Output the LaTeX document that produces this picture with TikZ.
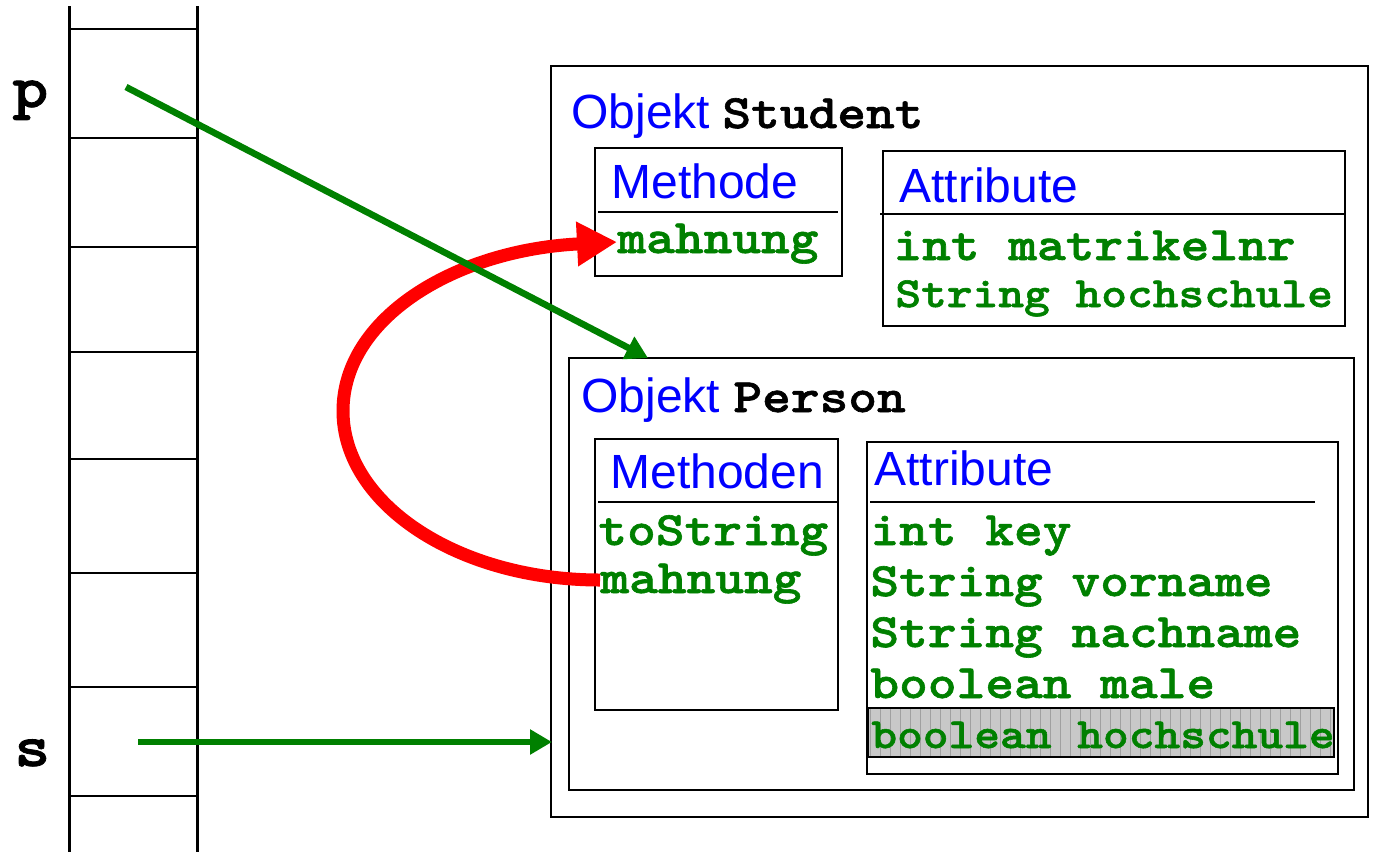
\documentclass[tikz,border=0pt]{standalone}
\usepackage{fontspec}
\setsansfont{Liberation Sans}
\newfontfamily\cfont[FakeStretch=1.14,FakeBold=1.3]{lmmonolt10-bold.otf}
\usetikzlibrary{arrows.meta}
\definecolor{codegreen}{RGB}{0,128,0}
\definecolor{labblue}{RGB}{0,0,255}
\definecolor{hlfill}{RGB}{200,200,200}
\definecolor{hlgrid}{RGB}{160,160,160}
\newcommand\cf[1]{\fontsize{#1}{#1}\selectfont\cfont}
\begin{document}
\begin{tikzpicture}[x=0.5pt,y=-0.5pt,
  box/.style={draw=black,line width=1.3pt},
  sep/.style={draw=black,line width=1.3pt},
  lab/.style={font=\fontsize{24}{24}\selectfont\sffamily, text=labblue, anchor=base west, inner sep=0},
  code/.style={font=\cf{24}, text=codegreen, anchor=base west, inner sep=0},
  codesmall/.style={font=\cf{21.5}, text=codegreen, anchor=base west, inner sep=0},
  cname/.style={font=\cf{24}, text=black, anchor=base west, inner sep=0},
  var/.style={font=\cf{30}, text=black, anchor=base west, inner sep=0},
  ptr/.style={draw=codegreen, line width=3.3pt, -{Triangle[length=11pt,width=12pt]}},
  call/.style={draw=red, line width=6.5pt, -{Triangle[length=20pt,width=21pt]}},
  stackline/.style={line width=1.5pt},
  cellline/.style={line width=1.2pt},
]
\useasboundingbox (0,0) rectangle (1377,852);
% stack
\draw[stackline] (69,6) -- (69,852) (197,6) -- (197,852);
\foreach \y in {29,138,247,352,459,573,687,796} \draw[cellline] (69,\y) -- (197,\y);
\node[var] (p) at (12,107) {p};
\node[var] (s) at (14,766) {s};

% Student object
\draw[box] (551,66) rectangle (1368,817);
\node[lab] (objS) at (571,128) {Objekt};
\node[cname] (student) at (722,128) {Student};

\draw[box] (595,148) rectangle (842,276);
\draw[sep] (598,212) -- (838,212);
\node[lab] (methS) at (611,198) {Methode};
\node[code] (sm) at (617,253) {mahnung};

\draw[box] (883,151) rectangle (1345,326);
\draw[sep] (880,214) -- (1345,214);
\node[lab] (attrS) at (899,202) {Attribute};
\node[code] (matr) at (893,260) {int matrikelnr};
\node[codesmall] (hsS) at (895,307) {String hochschule};

% Person object
\draw[box] (569,358) rectangle (1354,790);
\node[lab] (objP) at (581,412) {Objekt};
\node[cname] (person) at (733,412) {Person};

\draw[box] (595,439) rectangle (838,710);
\draw[sep] (598,502) -- (838,502);
\node[lab] (methP) at (610,488) {Methoden};
\node[code] (tostr) at (598,545) {toString};
\node[code] (pm) at (600,593) {mahnung};

\draw[box] (867,442) rectangle (1338,774);
\draw[sep] (870,502) -- (1315,502);
\node[lab] (attrP) at (874,485) {Attribute};
\node[code] (key) at (870,545) {int key};
\node[code] (vor) at (870,596) {String vorname};
\node[code] (nach) at (870,647) {String nachname};
\node[code] (male) at (870,698) {boolean male};
\fill[hlfill] (868,708) rectangle (1334,757);
\begin{scope}
\clip (868,708) rectangle (1334,757);
\draw[hlgrid, line width=0.4pt, step=10] (860,700) grid (1340,760);
\end{scope}
\draw[box] (868,708) rectangle (1334,757);
\node[codesmall] (hsP) at (871,748) {boolean hochschule};

% red call arrow
\coordinate (rs) at (600,580);
\coordinate (re) at (617,242);
\draw[call] (rs) .. controls (458,580) and (343,504) .. (343,411) .. controls (343,318) and (455,250) .. (re);

% pointers
\coordinate (pstart) at (126,87);
\coordinate (pend) at (648,358);
\draw[ptr] (pstart) -- (pend);
\coordinate (sstart) at (138,742);
\coordinate (send) at (552,742);
\draw[ptr] (sstart) -- (send);
\end{tikzpicture}
\end{document}
